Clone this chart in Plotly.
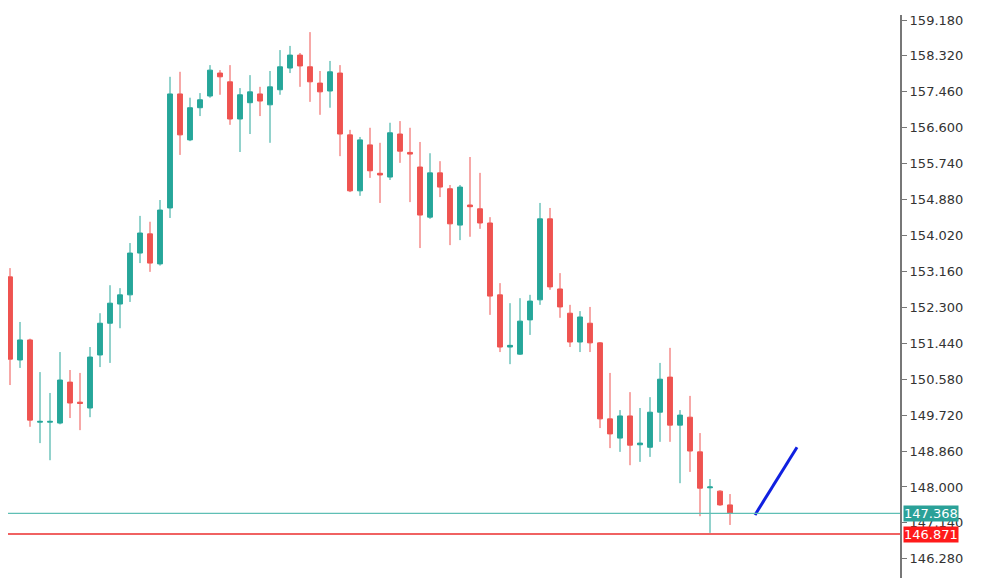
import plotly.graph_objects as go

opens = [153.03,151.04,151.52,149.55,149.55,149.53,150.51,150.03,149.89,151.16,151.92,152.38,152.60,153.60,154.06,153.34,154.68,157.41,156.31,157.08,157.36,157.91,157.70,156.81,157.20,157.41,157.15,157.51,158.03,158.34,158.06,157.67,157.48,157.91,156.43,155.09,156.19,155.51,155.42,156.45,156.01,155.66,154.46,155.52,155.14,154.27,154.75,154.66,154.32,152.60,151.35,151.18,152.00,152.48,154.42,152.74,152.16,151.47,151.92,151.45,149.63,149.17,149.70,149.01,148.95,149.79,150.63,149.48,149.67,148.84,147.98,147.90,147.57]
highs = [153.24,151.95,151.55,150.75,150.25,151.23,150.80,150.73,151.35,152.16,152.83,152.76,153.84,154.49,154.35,154.87,157.82,157.94,157.32,157.43,158.10,157.98,158.10,157.55,157.86,157.58,157.96,158.46,158.56,158.39,158.89,157.96,158.20,158.10,156.55,156.38,156.60,156.24,156.72,156.76,156.60,156.26,155.99,155.80,155.23,155.23,155.90,155.52,154.46,152.88,152.40,152.52,152.60,154.80,154.68,153.12,152.36,152.21,152.31,151.47,150.73,149.84,150.27,149.89,150.15,150.97,151.33,149.84,150.18,149.29,148.19,147.92,147.83]
lows = [150.44,150.85,149.44,149.05,148.64,149.50,149.65,149.36,149.67,150.87,150.97,151.80,152.43,153.36,153.15,153.30,154.44,155.95,156.28,156.88,157.32,157.39,156.67,156.02,156.45,156.88,156.24,157.39,157.91,157.58,157.22,156.91,157.08,155.92,155.06,154.97,155.40,154.80,155.35,155.76,154.82,153.72,154.42,154.94,153.79,153.91,153.99,154.18,152.12,151.23,150.94,151.16,151.64,152.36,152.72,152.05,151.35,151.23,151.23,149.41,148.93,148.84,148.52,148.60,148.72,149.08,149.08,148.09,148.36,147.30,146.90,147.55,147.09]
closes = [151.06,151.52,149.60,149.57,149.57,150.56,150.01,150.00,151.11,151.92,152.40,152.60,153.60,154.08,153.36,154.63,157.41,156.43,157.08,157.27,157.98,157.82,156.81,157.39,157.46,157.24,157.58,158.06,158.34,158.08,157.70,157.46,157.94,156.45,155.09,156.31,155.57,155.47,156.48,156.04,155.97,154.51,155.52,155.18,154.30,155.18,154.71,154.32,152.57,151.35,151.39,151.97,152.45,154.42,152.79,152.31,151.47,152.07,151.45,149.63,149.27,149.70,149.00,149.05,149.79,150.58,149.48,149.72,148.86,147.97,148.00,147.57,147.37]

support_teal = 147.368
support_red = 146.871
blue_x = [74.5, 78.7]
blue_y = [147.33, 148.95]
tick_vals = [146.28 + 0.86 * k for k in range(16)]
tick_text = [f"{v:.3f}" for v in tick_vals]

teal = "#26a69a"
red = "#ef5350"
idx = list(range(len(opens)))

fig = go.Figure()
fig.add_trace(go.Candlestick(
    x=idx, open=opens, high=highs, low=lows, close=closes,
    increasing=dict(line=dict(color=teal, width=1), fillcolor=teal),
    decreasing=dict(line=dict(color=red, width=1), fillcolor=red),
    whiskerwidth=0, showlegend=False, hoverinfo="skip"))
fig.add_trace(go.Scatter(x=blue_x, y=blue_y, mode="lines",
                         line=dict(color="#1020e0", width=3), showlegend=False))
fig.add_hline(y=support_teal, line=dict(color="#5fbfb5", width=1.2))
fig.add_hline(y=support_red, line=dict(color="#f06262", width=2))

for v, c in [(support_teal, "#2aa198"), (support_red, "#ff1a1a")]:
    fig.add_annotation(xref="paper", x=1.003, xanchor="left", y=v, yref="y",
                       text=f"{v:.3f}", showarrow=False, bgcolor=c,
                       font=dict(color="white", size=13, family="DejaVu Sans"),
                       borderpad=0)

fig.update_layout(
    width=992, height=578, paper_bgcolor="white", plot_bgcolor="white",
    margin=dict(l=0, r=100, t=7, b=8),
    xaxis=dict(range=[-0.2, 89], visible=False, rangeslider=dict(visible=False)),
    yaxis=dict(side="right", range=[145.82, 159.30], tickvals=tick_vals, ticktext=tick_text,
               showgrid=False, zeroline=False, showline=True, linecolor="#777", linewidth=2,
               ticks="outside", ticklen=5, tickcolor="#777",
               tickfont=dict(family="DejaVu Sans", size=13, color="#333")),
)
fig.write_html("out.html")
